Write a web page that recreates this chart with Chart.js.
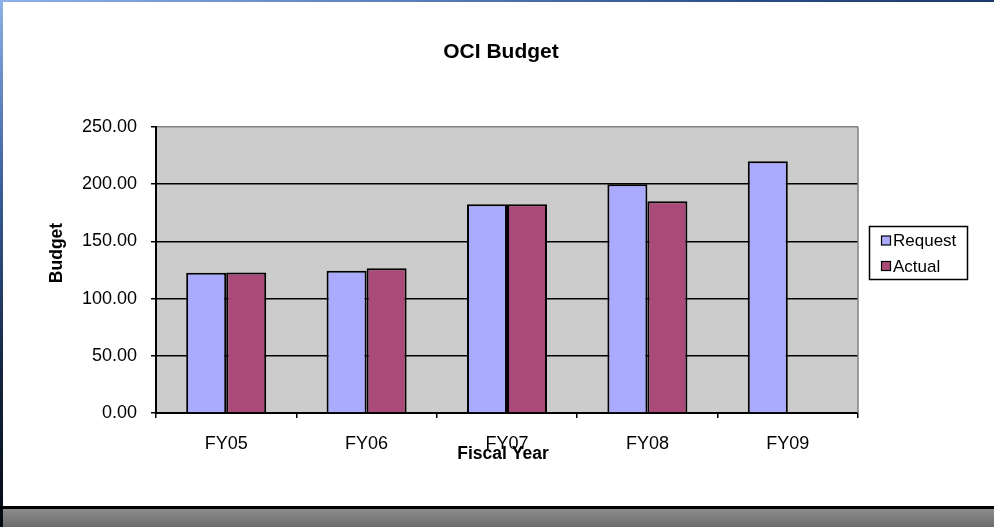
<!DOCTYPE html>
<html>
<head>
<meta charset="utf-8">
<script src="https://cdn.jsdelivr.net/npm/chart.js@4/dist/chart.umd.min.js"></script>
<style>
  html, body { margin: 0; padding: 0; background: #fff; }
  #wrap { position: relative; width: 994px; height: 527px; overflow: hidden; background: #fff; }
  #c { position: absolute; left: 0; top: 0; }
  .deco { position: absolute; pointer-events: none; }
  #topb { left: 0; top: 0; width: 994px; height: 2px; background: linear-gradient(to right, #8db0e6, #5a80c0 40%, #2b4e86 75%, #1e3a68); }
  #leftb { left: 0; top: 0; width: 3px; height: 527px; background: linear-gradient(to bottom, #8db0e6, #3a5f9a 35%, #142642 70%, #050a12); }
  #botline { left: 0; top: 506px; width: 994px; height: 3px; background: #000; }
  #botstrip { left: 3px; top: 509px; width: 991px; height: 18px; background: linear-gradient(to bottom, #8c8c8c, #6c6c6c); }
</style>
</head>
<body>
<div id="wrap">
  <canvas id="c" width="994" height="527"></canvas>
  <div class="deco" id="topb"></div>
  <div class="deco" id="leftb"></div>
  <div class="deco" id="botline"></div>
  <div class="deco" id="botstrip"></div>
</div>
<script>
const categories = ['FY05', 'FY06', 'FY07', 'FY08', 'FY09'];
const requestValues = [122.6, 124.4, 182.4, 200.0, 220.0];
const actualValues = [122.8, 126.5, 182.4, 185.0, null];
const seriesNames = ['Request', 'Actual'];
const chartTitle = 'OCI Budget';
const xAxisTitle = 'Fiscal Year';
const yAxisTitle = 'Budget';

const FONT = '"Liberation Sans", Arial, sans-serif';
const colRequest = '#AAAAFF';
const colActual = '#AA4A78';

const decoPlugin = {
  id: 'deco',
  beforeDraw(chart) {
    const { ctx, chartArea: a } = chart;
    ctx.save();
    ctx.fillStyle = '#CCCCCC';
    ctx.fillRect(a.left, a.top, a.right - a.left, a.bottom - a.top);
    ctx.restore();
  },
  afterDraw(chart) {
    const { ctx, chartArea: a } = chart;
    ctx.save();
    // plot right edge (gray)
    ctx.strokeStyle = '#808080';
    ctx.lineWidth = 1.5;
    ctx.beginPath();
    ctx.moveTo(a.right, a.top);
    ctx.lineTo(a.right, a.bottom);
    ctx.stroke();

    ctx.fillStyle = '#000';
    ctx.textAlign = 'center';
    ctx.textBaseline = 'middle';
    // chart title
    ctx.font = 'bold 21px ' + FONT;
    ctx.fillText(chartTitle, 501, 52);
    // axis titles
    ctx.font = 'bold 17.5px ' + FONT;
    ctx.fillText(xAxisTitle, 503, 454);
    ctx.save();
    ctx.translate(57, 253);
    ctx.rotate(-Math.PI / 2);
    ctx.fillText(yAxisTitle, 0, 0);
    ctx.restore();

    // legend
    const lx = 869.5, ly = 226.5, lw = 98, lh = 53;
    ctx.fillStyle = '#fff';
    ctx.fillRect(lx, ly, lw, lh);
    ctx.strokeStyle = '#000';
    ctx.lineWidth = 1.5;
    ctx.strokeRect(lx, ly, lw, lh);
    const ds = chart.data.datasets;
    ctx.font = '17px ' + FONT;
    ctx.textAlign = 'left';
    ds.forEach((d, i) => {
      const cy = 240.5 + i * 25.5;
      ctx.fillStyle = d.backgroundColor;
      ctx.fillRect(881.5, cy - 4.5, 9, 9);
      ctx.lineWidth = 1.2;
      ctx.strokeStyle = '#000';
      ctx.strokeRect(881.5, cy - 4.5, 9, 9);
      ctx.fillStyle = '#000';
      ctx.fillText(d.label, 893, cy + 1);
    });
    ctx.restore();
  }
};

new Chart(document.getElementById('c'), {
  type: 'bar',
  data: {
    labels: categories,
    datasets: [
      { label: seriesNames[0], data: requestValues, backgroundColor: colRequest, borderColor: '#000', borderWidth: 2 },
      { label: seriesNames[1], data: actualValues, backgroundColor: colActual, borderColor: '#000', borderWidth: 2 }
    ]
  },
  options: {
    responsive: false,
    animation: false,
    devicePixelRatio: 1,
    layout: { padding: { left: 0, right: 136, top: 127, bottom: 74 } },
    datasets: { bar: { categoryPercentage: 0.57, barPercentage: 1.0 } },
    plugins: {
      legend: { display: false },
      tooltip: { enabled: false },
      title: { display: false }
    },
    scales: {
      x: {
        offset: true,
        grid: { offset: true, drawOnChartArea: false, drawTicks: true, tickLength: 5, color: '#000', lineWidth: 1.5 },
        border: { color: '#000', width: 2 },
        ticks: { color: '#000', padding: 15, font: { family: FONT, size: 18 }, maxRotation: 0 },
        afterFit(s) { s.height = 40; }
      },
      y: {
        min: 0,
        max: 250,
        ticks: {
          stepSize: 50,
          color: '#000',
          padding: 14,
          font: { family: FONT, size: 18 },
          callback: v => Number(v).toFixed(2)
        },
        grid: {
          drawTicks: true,
          tickLength: 5,
          color: c => (c.tick && c.tick.value === 250) ? '#808080' : '#000',
          tickColor: '#000',
          lineWidth: 1.5
        },
        border: { color: '#000', width: 2 },
        afterFit(s) { s.width = 156; }
      }
    }
  },
  plugins: [decoPlugin]
});
</script>
</body>
</html>
